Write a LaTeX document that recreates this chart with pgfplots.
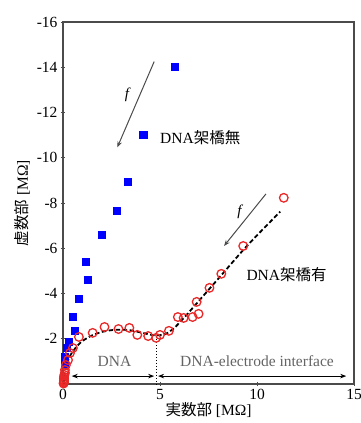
\documentclass[border=0pt]{standalone}
\usepackage{pgfplots}
\pgfplotsset{compat=1.18}
\usepackage{fontspec}
\setmainfont{Liberation Serif}
\newfontfamily\cjk{Noto Sans CJK JP}
\usetikzlibrary{arrows.meta}
\definecolor{axgray}{RGB}{75,75,75}
\definecolor{txtgray}{RGB}{100,100,100}
\definecolor{myred}{RGB}{235,40,40}
\begin{document}
\begin{tikzpicture}
\begin{axis}[
  scale only axis,
  width=291pt, height=362pt,
  xmin=0, xmax=15, ymin=-16, ymax=0,
  y dir=reverse,
  xtick={0,5,10,15}, ytick={-16,-14,-12,-10,-8,-6,-4,-2},
  xtick pos=bottom, ytick pos=left,
  tick align=center, major tick length=4pt,
  tick style={axgray, line width=0.8pt},
  axis line style={axgray, line width=1.6pt},
  /pgf/number format/assume math mode=true,
  ticklabel style={font=\fontsize{15.5}{17}\selectfont},
  xlabel={\cjk 実数部\rmfamily\ [MΩ]},
  ylabel={\cjk 虚数部\rmfamily\ [MΩ]},
  label style={font=\fontsize{15.5}{17}\selectfont},
  xlabel style={yshift=4pt},
  ylabel style={yshift=0pt},
  clip=false,
]
% DNA bridge absent (blue squares)
\addplot[only marks, mark=square*, mark size=3.6pt, color=blue] coordinates {
 (5.77,-14.03) (4.13,-11.02) (3.32,-8.94) (2.76,-7.65) (1.99,-6.59)
 (1.17,-5.40) (1.28,-4.60) (0.82,-3.76) (0.51,-2.96) (0.61,-2.35)
 (0.31,-1.86) (0.20,-1.59) (0.10,-1.19) (0.08,-0.9)
};
% fit (dashed)
\addplot[black, line width=1.8pt, dash pattern=on 4.5pt off 2.5pt, smooth] coordinates {
 (0.05,0) (0.1,-0.5) (0.2,-0.9) (0.4,-1.3) (0.7,-1.65) (1.0,-1.9) (1.5,-2.15)
 (2.0,-2.3) (2.5,-2.38) (3.0,-2.4) (3.5,-2.37) (4.0,-2.28) (4.5,-2.18)
 (4.9,-2.15) (5.3,-2.22) (5.7,-2.45) (6.1,-2.8) (6.5,-3.18) (8.0,-4.65)
 (9.5,-6.12) (11.2,-7.62)
};
% DNA bridge present (red circles)
\addplot[only marks, mark=o, mark size=4.3pt, color=myred, line width=1.3pt] coordinates {
 (0.03,-0.02) (0.04,-0.06) (0.05,-0.09) (0.05,-0.14) (0.05,-0.18) (0.05,-0.24) (0.05,-0.31)
 (0.07,-0.4) (0.1,-0.49) (0.1,-0.62) (0.15,-0.84)
 (0.26,-1.06) (0.36,-1.37) (0.51,-1.59) (0.82,-2.08) (1.53,-2.26) (2.14,-2.52)
 (2.86,-2.43) (3.42,-2.48) (3.83,-2.17) (4.39,-2.12) (4.80,-2.04) (5.00,-2.17)
 (5.46,-2.35) (5.92,-2.96) (6.22,-2.92) (6.68,-2.96) (6.99,-3.10) (6.89,-3.63)
 (7.55,-4.25) (8.16,-4.87) (9.29,-6.10) (11.38,-8.23)
};
% annotations
\draw[axgray, line width=1pt, -{Stealth[length=6pt]}] (axis cs:4.7,-14.25) -- (axis cs:2.8,-10.46);
\node[font=\fontsize{15}{17}\selectfont\itshape] at (axis cs:3.3,-12.8) {f};
\draw[axgray, line width=1pt, -{Stealth[length=6pt]}] (axis cs:10.46,-8.4) -- (axis cs:8.3,-6.1);
\node[font=\fontsize{15}{17}\selectfont\itshape] at (axis cs:9.1,-7.6) {f};
\node[font=\fontsize{15.5}{17}\selectfont, anchor=west, inner sep=0pt] at (axis cs:5.0,-10.9) {DNA\cjk 架橋無};
\node[font=\fontsize{15.5}{17}\selectfont, anchor=west, inner sep=0pt] at (axis cs:9.45,-4.85) {DNA\cjk 架橋有};
\draw[black, line width=1pt, dotted] (axis cs:4.8,-2.0) -- (axis cs:4.8,0);
\draw[black, line width=1pt, {Stealth[length=6pt]}-{Stealth[length=6pt]}] (axis cs:0.45,-0.35) -- (axis cs:4.7,-0.35);
\draw[black, line width=1pt, {Stealth[length=6pt]}-{Stealth[length=6pt]}] (axis cs:4.9,-0.35) -- (axis cs:14.6,-0.35);
\node[font=\fontsize{15.5}{17}\selectfont, text=txtgray] at (axis cs:2.65,-1.0) {DNA};
\node[font=\fontsize{15.5}{17}\selectfont, text=txtgray] at (axis cs:10.0,-1.0) {DNA-electrode interface};
\coordinate (bl) at (rel axis cs:0,0);
\coordinate (tr) at (rel axis cs:1,1);
\end{axis}
\pgfresetboundingbox
\path ([shift={(-63pt,-39pt)}]bl) rectangle ([shift={(7pt,22pt)}]tr);
\end{tikzpicture}
\end{document}
